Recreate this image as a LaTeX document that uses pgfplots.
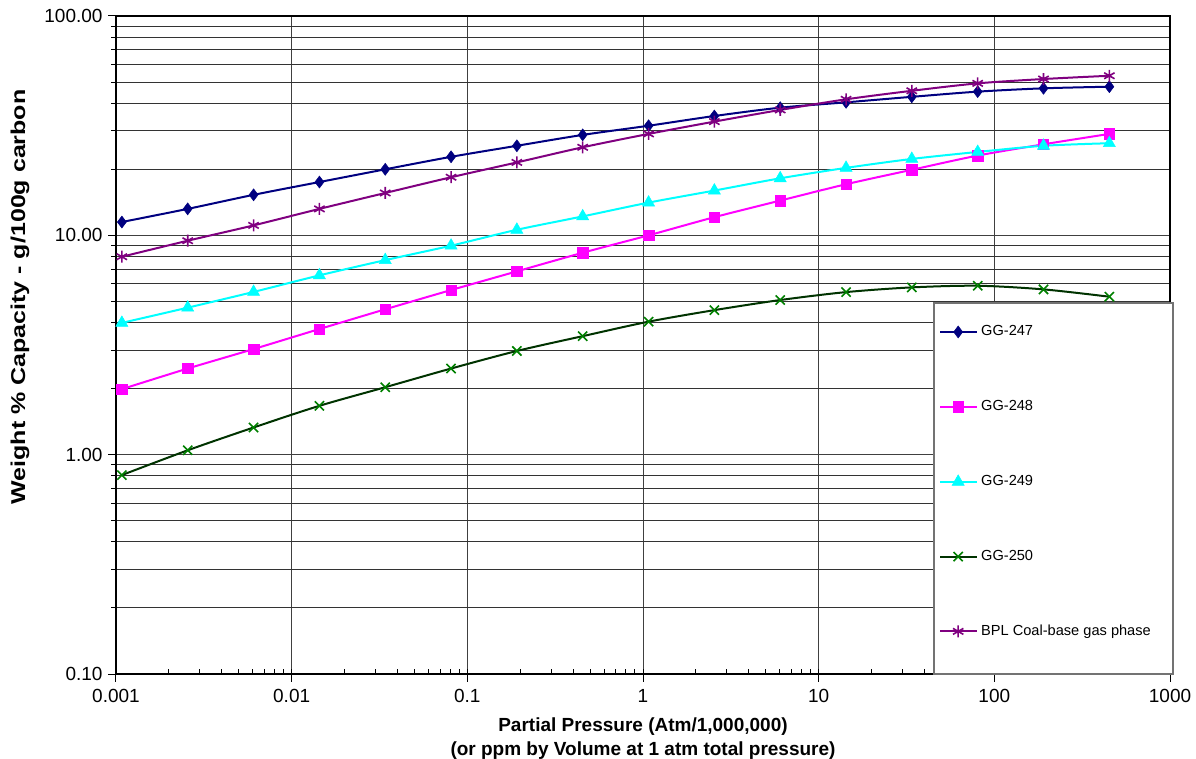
\documentclass[border=0pt]{standalone}
\usepackage{pgfplots}
\usepackage{pgfplotstable}
\pgfplotsset{compat=1.18}
\usepackage{fontspec}
\setmainfont{Liberation Sans}
\definecolor{cA}{RGB}{0,0,128}
\definecolor{cB}{RGB}{255,0,255}
\definecolor{cC}{RGB}{0,255,255}
\definecolor{cDline}{RGB}{0,51,0}
\definecolor{cDmark}{RGB}{0,128,0}
\definecolor{cE}{RGB}{128,0,128}
\pgfplotstableread{
x        gA    gB    gC    gD     gE
0.00108  11.5  1.99  3.99  0.807  7.99
0.00256  13.2  2.47  4.68  1.047  9.45
0.00607  15.3  3.03  5.52  1.33   11.1
0.01439  17.5  3.74  6.57  1.67   13.2
0.0341   20.0  4.60  7.71  2.03   15.6
0.0808   22.8  5.63  8.97  2.47   18.4
0.1914   25.6  6.85  10.6  2.97   21.5
0.4536   28.7  8.33  12.2  3.47   25.2
1.076    31.6  10.0  14.1  4.04   29.0
2.548    35.0  12.1  16.0  4.56   33.0
6.04     38.2  14.4  18.2  5.07   37.3
14.32    40.4  17.1  20.3  5.51   41.7
33.9     42.8  19.9  22.3  5.79   45.6
80.4     45.2  23.1  24.0  5.89   49.3
190.5    46.8  26.0  25.6  5.67   51.6
451.6    47.6  29.0  26.3  5.25   53.4
}\datatable
\begin{document}
\begin{tikzpicture}
\begin{axis}[
  at={(0,0)}, anchor=south west,
  scale only axis, width=1054bp, height=658bp,
  xmode=log, ymode=log,
  xmin=0.001, xmax=1000, ymin=0.1, ymax=100,
  xtick={0.001,0.01,0.1,1,10,100,1000},
  xticklabels={0.001,0.01,0.1,1,10,100,1000},
  ytick={0.1,1,10,100},
  yticklabels={0.10,1.00,10.00,100.00},
  xmajorgrids=true, ymajorgrids=true, yminorgrids=true,
  major grid style={black!75, line width=1bp},
  minor grid style={black!80, line width=1bp},
  axis line style={black, line width=1.2bp},
  xtick pos=left, ytick pos=left,
  tick align=outside,
  major tick length=8bp, minor tick length=5bp,
  tick style={black, line width=1bp},
  every minor x tick/.append style={yshift=5bp},
  tick label style={font=\fontsize{19bp}{22bp}\selectfont},
  xticklabel style={yshift=-4bp},
  yticklabel style={xshift=-2bp},
  xlabel={Partial Pressure (Atm/1,000,000)\\(or ppm by Volume at 1 atm total pressure)},
  xlabel style={at={(rel axis cs:0.5,-0.0654)}, anchor=north, align=center, inner sep=0pt,
    font=\bfseries\fontsize{19bp}{24bp}\selectfont},
  ylabel={\scalebox{1.25}[1]{Weight \% Capacity - g/100g carbon}},
  ylabel style={at={(rel axis cs:-0.0911,0.573)}, anchor=center, inner sep=0pt,
    font=\bfseries\fontsize{20bp}{23bp}\selectfont},
  clip=false,
  legend cell align=left,
  legend image code/.code={\draw[mark repeat=2,mark phase=2] plot coordinates {(0bp,0bp) (18bp,0bp) (36bp,0bp)};},
  legend style={at={(rel axis cs:0.7808,0.5304)}, anchor=north west, draw=none, fill=none,
    inner sep=0pt, row sep=61.3bp, column sep=4bp,
    font=\fontsize{14.6bp}{17bp}\selectfont,
    nodes={inner sep=0pt, text height=10.5bp, text depth=3bp}},
]
\draw[black!55, line width=1.3bp, fill=white] (rel axis cs:0.7761,0) rectangle (rel axis cs:1.0028,0.5638);
\addplot[cA, line width=2bp, smooth, mark=diamond*, mark size=6bp, mark options={solid, fill=cA, line width=0.5bp}] table[x=x,y=gA]{\datatable};
\addlegendentry{GG-247}
\addplot[cB, line width=2bp, smooth, mark=square*, mark size=5.2bp, mark options={solid, fill=cB, line width=0.5bp}] table[x=x,y=gB]{\datatable};
\addlegendentry{GG-248}
\addplot[cC, line width=2bp, smooth, mark=triangle*, mark size=7bp, mark options={solid, fill=cC, line width=0.5bp}] table[x=x,y=gC]{\datatable};
\addlegendentry{GG-249}
\addplot[cDline, line width=2bp, smooth, mark=x, mark size=6.5bp, mark options={solid, draw=cDmark, line width=1.6bp}] table[x=x,y=gD]{\datatable};
\addlegendentry{GG-250}
\addplot[cE, line width=2bp, smooth, mark=asterisk, mark size=6bp, mark options={solid, draw=cE, line width=1.6bp}] table[x=x,y=gE]{\datatable};
\addlegendentry{BPL Coal-base gas phase}
\end{axis}
\pgfresetboundingbox
\path[use as bounding box] (-116bp,-85bp) rectangle (1080bp,674bp);
\end{tikzpicture}
\end{document}
